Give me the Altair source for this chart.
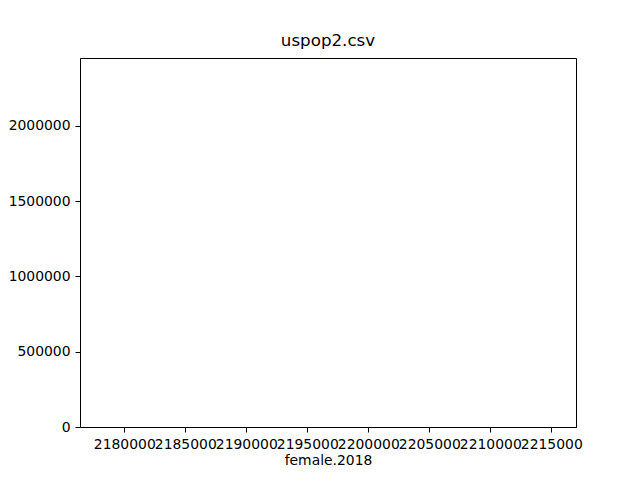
import altair as alt
import pandas as pd

# Values (bars are 0.8 units wide, so they are invisible at this scale)
female_2018 = [2178300, 2215100]
heights = [2333000, 2290000]
x_ticks = [2180000, 2185000, 2190000, 2195000, 2200000, 2205000, 2210000, 2215000]
y_ticks = [0, 500000, 1000000, 1500000, 2000000]

df = pd.DataFrame({"female.2018": female_2018, "value": heights})
df["x2"] = df["female.2018"] + 0.8
df["base"] = 0

FONT = "DejaVu Sans"

chart = (
    alt.Chart(df)
    .mark_rect(opacity=0, color="#1f77b4")
    .encode(
        x=alt.X(
            "female.2018:Q",
            scale=alt.Scale(domain=[2176369, 2217025], nice=False, zero=False, padding=0),
            axis=alt.Axis(
                values=x_ticks, format="d", title="female.2018", grid=False,
                labelOverlap=False, labelFlush=False, labelBound=False,
                tickSize=5, tickColor="black", domainColor="black",
                labelColor="black", labelFontSize=13.9, labelFont=FONT,
                labelPadding=5, titleFont=FONT, titleFontSize=13.9,
                titleFontWeight="normal", titleColor="black", titlePadding=3,
            ),
        ),
        x2="x2:Q",
        y=alt.Y(
            "value:Q",
            scale=alt.Scale(domain=[0, 2450000], nice=False, padding=0),
            axis=alt.Axis(
                values=y_ticks, format="d", title=None, grid=False,
                labelOverlap=False, labelFlush=False, labelBound=False,
                tickSize=5, tickColor="black", domainColor="black",
                labelColor="black", labelFontSize=13.9, labelFont=FONT,
                labelPadding=5,
            ),
        ),
        y2="base:Q",
    )
    .properties(
        width=496,
        height=369,
        title=alt.TitleParams("uspop2.csv", font=FONT, fontSize=16.7,
                              fontWeight="normal", color="black", offset=8),
        padding={"left": 80, "top": 58, "right": 64, "bottom": 53},
        autosize="none",
        background="white",
    )
    .configure_view(stroke="black", strokeWidth=1)
)

chart.save("out.html", embed_options={"renderer": "svg", "actions": False})
